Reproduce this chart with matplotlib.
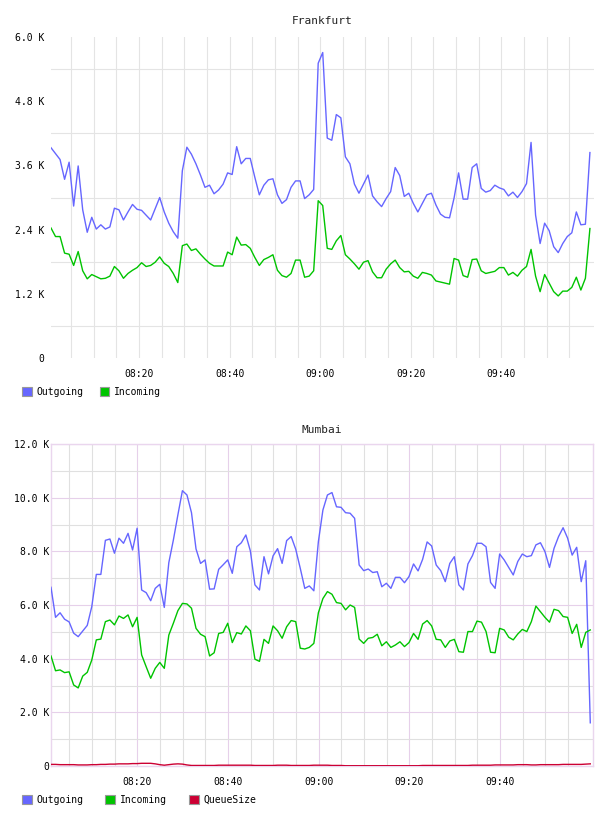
import matplotlib
matplotlib.use("Agg")
import matplotlib.pyplot as plt
from matplotlib.patches import Patch
import numpy as np

FONT = "DejaVu Sans Mono"

# x axis: minutes after 08:00
TIME_TICKS = [20, 40, 60, 80, 100]
TIME_LABELS = ["08:20", "08:40", "09:00", "09:20", "09:40"]
FRA_START = 0.57
MUM_START = 0.92

# values in thousands, one sample per minute
FRA_OUT = [
    3.93, 3.82, 3.71, 3.34, 3.66, 2.84, 3.59, 2.77, 2.35, 2.63,
    2.41, 2.49, 2.41, 2.45, 2.80, 2.77, 2.58, 2.73, 2.87, 2.78,
    2.76, 2.67, 2.58, 2.79, 3.00, 2.73, 2.52, 2.36, 2.24, 3.50,
    3.94, 3.81, 3.63, 3.42, 3.19, 3.23, 3.07, 3.14, 3.25, 3.46,
    3.43, 3.95, 3.63, 3.73, 3.73, 3.38, 3.05, 3.23, 3.33, 3.35,
    3.05, 2.89, 2.96, 3.19, 3.31, 3.31, 2.98, 3.05, 3.15, 5.51,
    5.71, 4.11, 4.07, 4.55, 4.49, 3.76, 3.63, 3.25, 3.08, 3.25,
    3.42, 3.03, 2.92, 2.83, 2.98, 3.11, 3.56, 3.41, 3.02, 3.08,
    2.89, 2.73, 2.89, 3.05, 3.08, 2.86, 2.69, 2.63, 2.62, 2.99,
    3.46, 2.97, 2.97, 3.56, 3.63, 3.17, 3.10, 3.13, 3.23, 3.18,
    3.15, 3.03, 3.10, 3.00, 3.11, 3.26, 4.03, 2.67, 2.14, 2.52,
    2.38, 2.08, 1.97, 2.14, 2.27, 2.34, 2.73, 2.49, 2.50, 3.84,
]
FRA_IN = [
    2.43, 2.27, 2.27, 1.96, 1.94, 1.73, 1.99, 1.63, 1.48, 1.56,
    1.52, 1.48, 1.49, 1.53, 1.71, 1.63, 1.49, 1.58, 1.64, 1.69,
    1.78, 1.71, 1.73, 1.79, 1.89, 1.77, 1.71, 1.58, 1.41, 2.10,
    2.13, 2.01, 2.04, 1.94, 1.85, 1.77, 1.72, 1.72, 1.72, 1.98,
    1.93, 2.26, 2.11, 2.12, 2.05, 1.88, 1.73, 1.84, 1.88, 1.93,
    1.64, 1.54, 1.51, 1.58, 1.83, 1.83, 1.51, 1.53, 1.63, 2.94,
    2.85, 2.05, 2.03, 2.19, 2.29, 1.93, 1.85, 1.76, 1.66, 1.79,
    1.82, 1.61, 1.50, 1.50, 1.66, 1.76, 1.83, 1.69, 1.61, 1.62,
    1.53, 1.49, 1.60, 1.58, 1.55, 1.44, 1.42, 1.40, 1.38, 1.86,
    1.83, 1.54, 1.51, 1.84, 1.85, 1.63, 1.58, 1.60, 1.62, 1.69,
    1.69, 1.55, 1.60, 1.53, 1.64, 1.71, 2.03, 1.53, 1.24, 1.56,
    1.40, 1.24, 1.16, 1.25, 1.25, 1.32, 1.51, 1.27, 1.49, 2.42,
]
MUM_OUT = [
    6.66, 5.54, 5.71, 5.47, 5.37, 4.95, 4.82, 5.03, 5.24, 5.94,
    7.14, 7.14, 8.41, 8.46, 7.93, 8.49, 8.30, 8.67, 8.05, 8.86,
    6.56, 6.46, 6.16, 6.62, 6.77, 5.91, 7.58, 8.42, 9.36, 10.26,
    10.10, 9.44, 8.09, 7.55, 7.68, 6.59, 6.60, 7.33, 7.50, 7.68,
    7.18, 8.17, 8.32, 8.61, 8.01, 6.75, 6.56, 7.80, 7.16, 7.83,
    8.10, 7.55, 8.40, 8.55, 8.08, 7.37, 6.62, 6.71, 6.53, 8.36,
    9.54, 10.10, 10.19, 9.66, 9.64, 9.44, 9.42, 9.23, 7.49, 7.28,
    7.34, 7.21, 7.24, 6.68, 6.81, 6.62, 7.03, 7.03, 6.83, 7.06,
    7.53, 7.27, 7.70, 8.35, 8.20, 7.49, 7.28, 6.87, 7.55, 7.80,
    6.75, 6.56, 7.53, 7.84, 8.30, 8.30, 8.17, 6.84, 6.62, 7.90,
    7.68, 7.40, 7.12, 7.62, 7.90, 7.80, 7.84, 8.24, 8.32, 7.99,
    7.40, 8.11, 8.55, 8.88, 8.49, 7.86, 8.15, 6.87, 7.65, 1.61,
]
MUM_IN = [
    4.10, 3.55, 3.58, 3.48, 3.51, 3.02, 2.91, 3.35, 3.49, 3.95,
    4.70, 4.73, 5.38, 5.44, 5.26, 5.59, 5.50, 5.63, 5.19, 5.54,
    4.14, 3.70, 3.27, 3.64, 3.86, 3.64, 4.88, 5.32, 5.79, 6.06,
    6.04, 5.88, 5.13, 4.91, 4.82, 4.10, 4.22, 4.94, 4.98, 5.32,
    4.60, 4.97, 4.92, 5.22, 5.04, 3.98, 3.90, 4.72, 4.57, 5.22,
    5.04, 4.76, 5.19, 5.42, 5.38, 4.39, 4.36, 4.42, 4.57, 5.71,
    6.24, 6.50, 6.40, 6.09, 6.06, 5.82, 6.00, 5.91, 4.73, 4.57,
    4.76, 4.79, 4.91, 4.48, 4.63, 4.42, 4.51, 4.63, 4.45, 4.60,
    4.94, 4.72, 5.29, 5.42, 5.22, 4.72, 4.70, 4.42, 4.66, 4.72,
    4.26, 4.24, 5.01, 5.01, 5.40, 5.36, 5.01, 4.24, 4.22, 5.13,
    5.07, 4.80, 4.70, 4.92, 5.09, 5.01, 5.38, 5.96, 5.75, 5.54,
    5.36, 5.84, 5.79, 5.57, 5.54, 4.94, 5.28, 4.42, 4.98, 5.07,
]
MUM_QUEUE = [
    0.06, 0.06, 0.05, 0.05, 0.05, 0.05, 0.04, 0.04, 0.04, 0.05,
    0.05, 0.06, 0.06, 0.07, 0.07, 0.08, 0.08, 0.08, 0.09, 0.09,
    0.10, 0.10, 0.10, 0.08, 0.05, 0.03, 0.05, 0.07, 0.08, 0.07,
    0.04, 0.02, 0.02, 0.02, 0.02, 0.02, 0.02, 0.03, 0.03, 0.03,
    0.03, 0.03, 0.03, 0.03, 0.03, 0.02, 0.02, 0.02, 0.02, 0.02,
    0.03, 0.03, 0.03, 0.02, 0.02, 0.02, 0.02, 0.02, 0.03, 0.03,
    0.03, 0.03, 0.02, 0.02, 0.02, 0.01, 0.01, 0.01, 0.01, 0.01,
    0.01, 0.01, 0.01, 0.01, 0.01, 0.01, 0.01, 0.01, 0.01, 0.01,
    0.01, 0.01, 0.02, 0.02, 0.02, 0.02, 0.02, 0.02, 0.02, 0.02,
    0.02, 0.02, 0.02, 0.03, 0.03, 0.03, 0.03, 0.03, 0.04, 0.04,
    0.04, 0.04, 0.04, 0.05, 0.05, 0.05, 0.04, 0.04, 0.05, 0.05,
    0.05, 0.05, 0.05, 0.06, 0.06, 0.06, 0.06, 0.06, 0.07, 0.08,
]

FRA_YTICKS = [0, 1.2, 2.4, 3.6, 4.8, 6.0]
FRA_YLABELS = ["0", "1.2 K", "2.4 K", "3.6 K", "4.8 K", "6.0 K"]
MUM_YTICKS = [0, 2, 4, 6, 8, 10, 12]
MUM_YLABELS = ["0", "2.0 K", "4.0 K", "6.0 K", "8.0 K", "10.0 K", "12.0 K"]

BLUE = "#6666ff"
GREEN = "#00c400"
RED = "#cc0033"

W, H = 608, 816
fig = plt.figure(figsize=(W / 100, H / 100), dpi=100)


def px_axes(left, top, right, bottom):
    return fig.add_axes([left / W, 1 - bottom / H, (right - left) / W, (bottom - top) / H])


def add_legend(ax, names, colors, y, spacing):
    handles = [Patch(facecolor=c, edgecolor="#999999", linewidth=0.8) for c in colors]
    ax.legend(handles, names, loc="center left", bbox_to_anchor=(22 / W, 1 - y / H),
              bbox_transform=fig.transFigure, ncol=len(names), frameon=False,
              prop={"family": FONT, "size": 7}, handlelength=1.0, handleheight=1.0,
              handletextpad=0.5, columnspacing=spacing, borderpad=0, borderaxespad=0)


# ---- Frankfurt ----
ax1 = px_axes(51, 37, 594, 358)
t = FRA_START + np.arange(len(FRA_OUT))
ax1.plot(t, FRA_OUT, color=BLUE, lw=1.0, zorder=3)
ax1.plot(t, FRA_IN, color=GREEN, lw=1.0, zorder=3)
ax1.set_xlim(FRA_START, FRA_START + 119.9)
ax1.set_ylim(0, 6)
ax1.set_yticks(FRA_YTICKS, FRA_YLABELS)
ax1.set_yticks([0.6, 1.8, 3.0, 4.2, 5.4], minor=True)
ax1.set_xticks(TIME_TICKS, TIME_LABELS)
ax1.set_xticks(range(5, 120, 5), minor=True)
ax1.grid(axis="x", which="both", color="#e4e4e4", lw=0.8)
ax1.grid(axis="y", which="minor", color="#e4e4e4", lw=0.8)
ax1.tick_params(which="both", length=0)
ax1.tick_params(axis="y", pad=5)
ax1.tick_params(axis="x", pad=8)
for s in ax1.spines.values():
    s.set_visible(False)
for lab in ax1.get_xticklabels() + ax1.get_yticklabels():
    lab.set_fontfamily(FONT)
    lab.set_fontsize(7)
ax1.set_title("Frankfurt", fontfamily=FONT, fontsize=8, color="#222222", pad=9)
add_legend(ax1, ["Outgoing", "Incoming"], [BLUE, GREEN], 392, 1.65)

# ---- Mumbai ----
ax2 = px_axes(51, 444, 593, 766)
t = MUM_START + np.arange(len(MUM_OUT))
ax2.plot(t, MUM_OUT, color=BLUE, lw=1.0, zorder=3)
ax2.plot(t, MUM_IN, color=GREEN, lw=1.0, zorder=3)
ax2.plot(t, MUM_QUEUE, color=RED, lw=1.0, zorder=4)
ax2.set_xlim(MUM_START, MUM_START + 119.6)
ax2.set_ylim(0, 12)
ax2.set_yticks(MUM_YTICKS, MUM_YLABELS)
ax2.set_yticks([1, 3, 5, 7, 9, 11], minor=True)
ax2.set_xticks(TIME_TICKS, TIME_LABELS)
ax2.set_xticks(range(5, 120, 5), minor=True)
ax2.grid(which="minor", color="#e0e0e0", lw=0.8)
ax2.grid(which="major", color="#e6d0ea", lw=0.8)
ax2.tick_params(which="both", length=0)
ax2.tick_params(axis="y", pad=1)
ax2.tick_params(axis="x", pad=8)
for s in ax2.spines.values():
    s.set_color("#ead6ee")
    s.set_linewidth(1.0)
for lab in ax2.get_xticklabels() + ax2.get_yticklabels():
    lab.set_fontfamily(FONT)
    lab.set_fontsize(7)
ax2.set_title("Mumbai", fontfamily=FONT, fontsize=8, color="#222222", pad=8)
add_legend(ax2, ["Outgoing", "Incoming", "QueueSize"], [BLUE, GREEN, RED], 800, 2.25)

fig.savefig("out.png", dpi=100)
